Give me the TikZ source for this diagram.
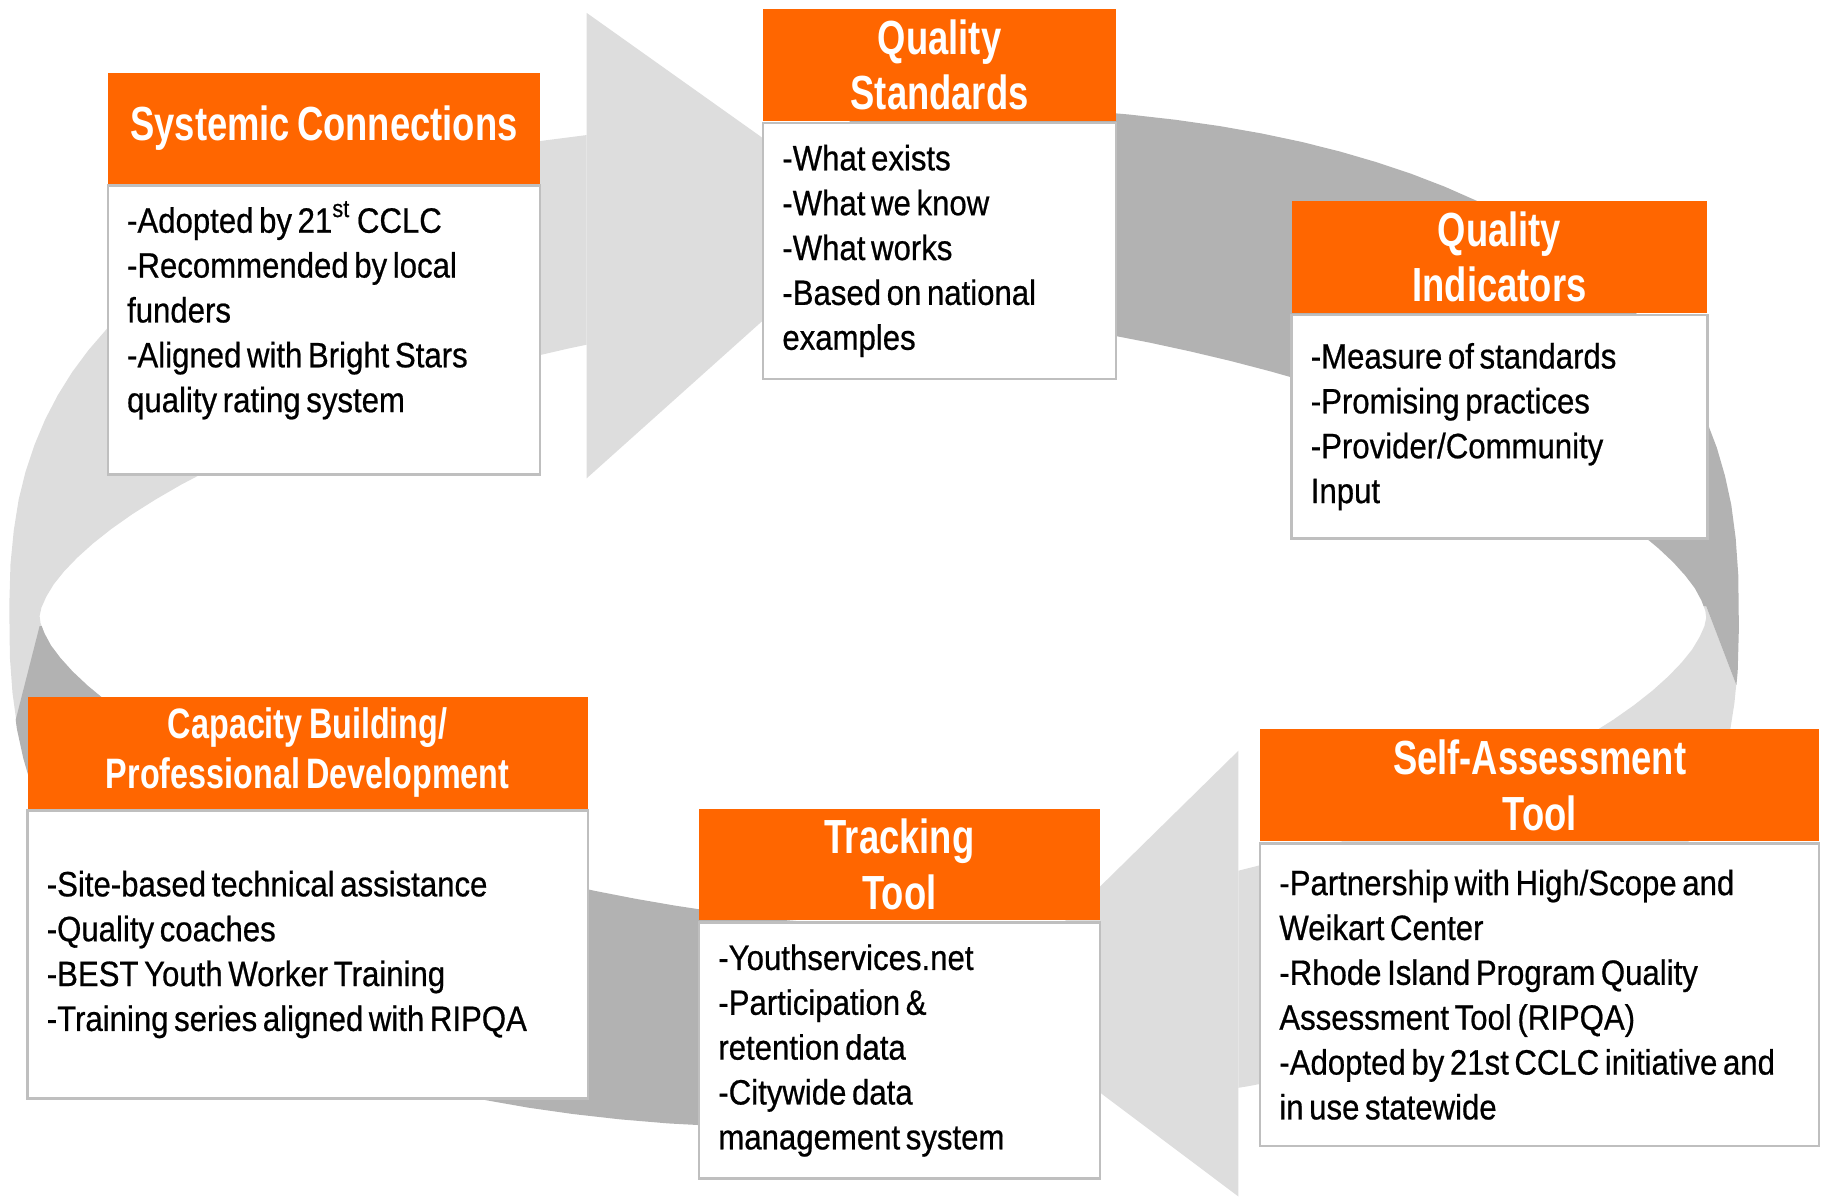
\documentclass[tikz,border=0pt]{standalone}
\usepackage{fontspec}
\newfontfamily\headfont{Liberation Sans}[FakeStretch=0.76, WordSpace=0.7]
\newfontfamily\bodyfont{Liberation Sans}[FakeStretch=0.885, WordSpace=0.65, FakeBold=0.6]
\usetikzlibrary{positioning}

\definecolor{headorange}{RGB}{255,102,0}
\definecolor{lightring}{RGB}{221,221,221}
\definecolor{darkring}{RGB}{178,178,178}
\definecolor{boxgray}{RGB}{191,191,191}

% ring outlines (superellipses), in picture units
\def\outerring{plot[domain=0.5:360.5, samples=121, variable=\t] ({751+743*sign(cos(\t))*abs(cos(\t))^0.8}, {530+440*sign(sin(\t))*abs(sin(\t))^0.8}) -- cycle}
\def\outerlight{plot[domain=0.5:360.5, samples=121, variable=\t] ({751+743*sign(cos(\t))*abs(cos(\t))^0.8}, {530+425*sign(sin(\t))*abs(sin(\t))^0.8}) -- cycle}
\def\innerring{plot[domain=0.5:360.5, samples=121, variable=\t] ({750+716*sign(cos(\t))*abs(cos(\t))^1.25}, {530+265*sign(sin(\t))*abs(sin(\t))^1.25}) -- cycle}

\tikzset{
  head/.style={fill=headorange, text=white, font=\headfont\bfseries\fontsize{11.7}{13.6}\selectfont, align=flush center, inner sep=0pt, anchor=north west},
  body/.style={draw=boxgray, line width=0.6pt, fill=white, font=\bodyfont\fontsize{8.6}{10.96}\selectfont, align=flush left, inner xsep=0.165cm, inner ysep=0pt},
}

\begin{document}
\begin{tikzpicture}[x=0.01cm, y=-0.01cm]
\useasboundingbox (0,0) rectangle (1568,1029);

% light arc, left and top
\begin{scope}
  \clip (-50,-50) rectangle (504,1100);
  \fill[lightring, even odd rule] \outerlight \innerring;
\end{scope}
% light arc, bottom right
\begin{scope}
  \clip (1064,530) -- (1466,521) -- (1500,610) -- (1650,650) -- (1650,1100) -- (1064,1100) -- cycle;
  \fill[lightring, even odd rule] \outerlight \innerring;
\end{scope}
% dark arc, top right
\begin{scope}
  \clip (730,-50) -- (1650,-50) -- (1650,650) -- (1500,610) -- (1466,521) -- (730,530) -- cycle;
  \fill[darkring, even odd rule] \outerring \innerring;
\end{scope}
% dark arc, bottom left
\begin{scope}
  \clip (760,1100) -- (760,530) -- (34,538) -- (8,640) -- (-50,650) -- (-50,1100) -- cycle;
  \fill[darkring, even odd rule] \outerring \innerring;
\end{scope}
% arrow heads
\fill[lightring] (504,11) -- (753,188) -- (504,411) -- cycle;
\fill[lightring] (1064,645) -- (843,862) -- (1064,1028) -- cycle;

% boxes
\node[head, text width=3.71cm, minimum height=.95cm] (sysh) at (92,62) {Systemic Connections};
\node[body, text width=3.38cm, minimum height=2.48cm, below=0pt of sysh] (sysb) {-Adopted by 21\textsuperscript{st} CCLC\\-Recommended by local\\funders\\-Aligned with Bright Stars\\quality rating system\par\kern.34cm};

\node[head, text width=3.03cm, minimum height=.96cm] (stdh) at (655,7) {Quality\\Standards};
\node[body, text width=2.70cm, minimum height=2.20cm, below=0pt of stdh] (stdb) {-What exists\\-What we know\\-What works\\-Based on national\\examples};

\node[head, text width=3.57cm, minimum height=.96cm] (indh) at (1109,172) {Quality\\Indicators};
\node[body, text width=3.24cm, minimum height=1.92cm, below=0pt of indh] (indb) {-Measure of standards\\-Promising practices\\-Provider/Community\\Input};

\node[head, text width=4.80cm, minimum height=.96cm] (selfh) at (1082,626) {Self-Assessment\\Tool};
\node[body, text width=4.47cm, minimum height=2.60cm, below=0pt of selfh] (selfb) {-Partnership with High/Scope and\\Weikart Center\\-Rhode Island Program Quality\\Assessment Tool (RIPQA)\\-Adopted by 21st CCLC initiative and\\in use statewide};

\node[head, text width=3.44cm, minimum height=.96cm] (trackh) at (600,694) {Tracking\\Tool};
\node[body, text width=3.11cm, minimum height=2.20cm, below=0pt of trackh] (trackb) {-Youthservices.net\\-Participation \&\\retention data\\-Citywide data\\management system};

\node[head, text width=4.81cm, minimum height=.96cm, font=\headfont\bfseries\fontsize{10.4}{12.2}\selectfont] (caph) at (23,598) {Capacity Building/\\Professional Development};
\node[body, text width=4.48cm, minimum height=2.47cm, below=0pt of caph] (capb) {-Site-based technical assistance\\-Quality coaches\\-BEST Youth Worker Training\\-Training series aligned with RIPQA};
\end{tikzpicture}
\end{document}
